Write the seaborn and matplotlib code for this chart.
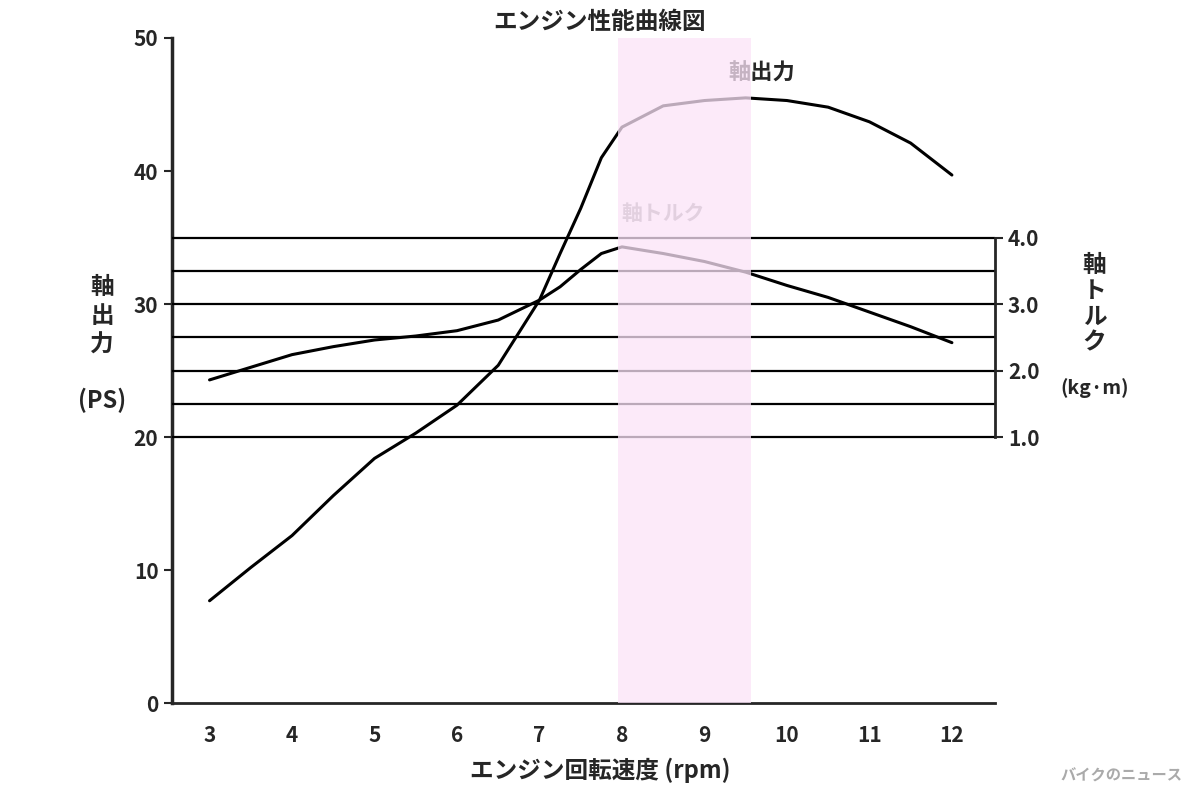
import numpy as np
import pandas as pd
import matplotlib.pyplot as plt
import seaborn as sns

# datos
rpm = [3, 3.5, 4, 4.5, 5, 5.5, 6, 6.5, 7, 7.25, 7.5, 7.75, 8, 8.5, 9, 9.5, 10, 10.5, 11, 11.5, 12]
potencia = [7.7, 10.2, 12.6, 15.6, 18.4, 20.3, 22.4, 25.4, 30.3, 33.8, 37.2, 41.0, 43.3, 44.9, 45.3, 45.5, 45.3, 44.8, 43.7, 42.1, 39.7]
torque = [1.86, 2.05, 2.24, 2.36, 2.46, 2.52, 2.60, 2.76, 3.06, 3.26, 3.52, 3.76, 3.86, 3.76, 3.64, 3.48, 3.28, 3.10, 2.88, 2.66, 2.42]
lineas_torque = [1.0, 1.5, 2.0, 2.5, 3.0, 3.5, 4.0]

df = pd.DataFrame({"rpm": rpm, "potencia": potencia, "torque": torque})

sns.set_style("white")
plt.rcParams['font.family'] = ['Noto Sans CJK JP', 'DejaVu Sans']
plt.rcParams['font.weight'] = 'bold'

fig = plt.figure(figsize=(12, 8), dpi=100)
ax = fig.add_axes([0.143, 0.121, 0.686, 0.8315])
ax2 = ax.twinx()

ax.set_xlim(2.54, 12.52)
ax.set_ylim(0, 50)
ax2.set_ylim(-3, 7)

# lineas horizontales de torque
for t in lineas_torque:
    ax2.axhline(t, color="black", lw=1.6, zorder=1)

sns.lineplot(data=df, x="rpm", y="potencia", ax=ax, color="black", lw=2.2, zorder=2)
sns.lineplot(data=df, x="rpm", y="torque", ax=ax2, color="black", lw=2.2, zorder=2)

# franja rosa
ax2.axvspan(7.95, 9.57, color="#fbe3f8", alpha=0.75, zorder=3, lw=0)

ax.set_xticks(range(3, 13))
ax.set_yticks(range(0, 51, 10))
ax2.set_yticks([1.0, 2.0, 3.0, 4.0])
ax2.set_yticklabels(["1.0", "2.0", "3.0", "4.0"])
for a in (ax, ax2):
    a.tick_params(labelsize=15, length=6, width=1.5, direction="out")
    for s in a.spines.values():
        s.set_visible(False)
ax.tick_params(axis="x", pad=10)
ax.spines["left"].set_visible(True)
ax.spines["left"].set_linewidth(2.5)
ax.spines["bottom"].set_visible(True)
ax.spines["bottom"].set_linewidth(2.0)
ax2.spines["right"].set_visible(True)
ax2.spines["right"].set_linewidth(2.0)
ax2.spines["right"].set_bounds(1.0, 4.0)
ax.set_xlabel("")
ax.set_ylabel("")
ax2.set_ylabel("")

fig.text(0.5, 0.972, "エンジン性能曲線図", ha="center", va="center", fontsize=17)
fig.text(0.5, 0.037, "エンジン回転速度 (rpm)", ha="center", va="center", fontsize=17)
fig.text(0.085, 0.605, "軸\n出\n力", ha="center", va="center", fontsize=17, linespacing=1.25)
fig.text(0.085, 0.50, "(PS)", ha="center", va="center", fontsize=17)
fig.text(0.912, 0.62, "軸\nト\nル\nク", ha="center", va="center", fontsize=17, linespacing=1.1)
fig.text(0.912, 0.515, "(kg·m)", ha="center", va="center", fontsize=14)
ax.text(9.7, 46.5, "軸出力", fontsize=16, ha="center", va="bottom", zorder=4)
ax.text(8.5, 36.0, "軸トルク", fontsize=15, ha="center", va="bottom", color="#999999", zorder=4)
fig.text(0.985, 0.03, "バイクのニュース", ha="right", va="center", fontsize=11, color="#aaaaaa")

plt.savefig("out.png")
